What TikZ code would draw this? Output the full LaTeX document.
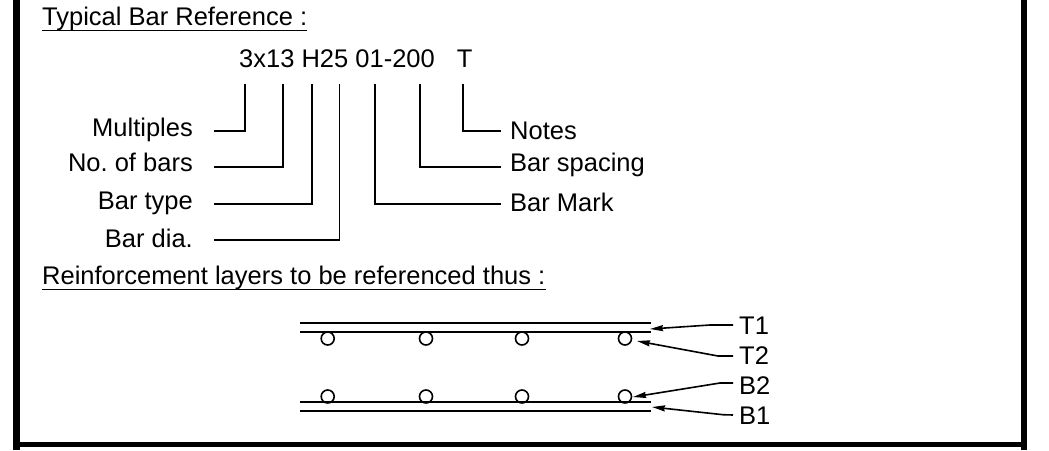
\documentclass[tikz,border=0pt]{standalone}
\usepackage{fontspec}
\setmainfont{Liberation Sans}
\usetikzlibrary{arrows.meta,positioning}
\tikzset{every node/.style={font=\fontsize{25.5}{30}\selectfont}}

\begin{document}
\frenchspacing
\begin{tikzpicture}[
    x=1pt, y=-1pt,
    >={Stealth[length=13pt,width=6pt,inset=1pt]},
    frame/.style={line width=6.5pt},
    lead/.style={line width=1.6pt},
    bar/.style={line width=1.7pt},
    heading/.style={anchor=base west, inner sep=0pt},
    leftlabel/.style={anchor=mid east, inner xsep=21pt, inner ysep=0pt},
    rightlabel/.style={anchor=mid west, inner xsep=9pt, inner ysep=0pt},
    layerlabel/.style={anchor=mid west, inner xsep=6pt, inner ysep=0pt},
    rod/.style={circle, draw, line width=1.6pt, minimum size=13pt, inner sep=0pt}
]
\useasboundingbox (0,0) rectangle (1049,450);

\draw[frame] (16.5,0) -- (16.5,450);
\draw[frame] (1024,0) -- (1024,450);
\draw[frame, line width=5pt] (20,444) -- (1021,444);

\node (title) [heading] at (42,25) {Typical Bar Reference :};
\draw[lead] (title.south west) -- (title.south east);

\node (reference) [heading] at (239,67) {3x13 H25 01-200\hspace{15pt} T};

\coordinate (multiplestop) at (245,83.5);
\coordinate (numbertop) at (283,83.5);
\coordinate (typetop) at (312,83.5);
\coordinate (diatop) at (339.5,83.5);
\coordinate (marktop) at (375,83.5);
\coordinate (spacingtop) at (420,83.5);
\coordinate (notestop) at (463,83.5);

\node (multiples) [leftlabel] at (214,134) {Multiples};
\node (number) [leftlabel] at (214,169) {No. of bars};
\node (type) [leftlabel] at (214,207) {Bar type};
\node (dia) [leftlabel] at (214,245) {Bar dia.};

\node (notes) [rightlabel] at (501,137) {Notes};
\node (spacing) [rightlabel] at (501,169) {Bar spacing};
\node (mark) [rightlabel] at (501,209) {Bar Mark};

\draw[lead] (multiplestop) |- ([yshift=3pt]multiples.mid east);
\draw[lead] (numbertop) |- ([yshift=2pt]number.mid east);
\draw[lead] (typetop) |- ([yshift=3pt]type.mid east);
\draw[lead] (diatop) |- ([yshift=5pt]dia.mid east);
\draw[lead] (marktop) |- ([yshift=5pt]mark.mid west);
\draw[lead] (spacingtop) |- ([yshift=2pt]spacing.mid west);
\draw[lead] (notestop) |- ([yshift=6pt]notes.mid west);

\node (layers) [heading] at (42,284) {Reinforcement layers to be referenced thus :};
\draw[lead] (layers.south west) -- (layers.south east);

% top layers
\draw[bar] (300,323) -- (651,323);
\draw[bar] (300,332) -- (651,332);
\node (top1) [rod] at (327.7,338.5) {};
\node (top2) [rod] at (426,338.5) {};
\node (top3) [rod] at (522,338.5) {};
\node (top4) [rod] at (625,338.5) {};

% bottom layers
\draw[bar] (300,402.3) -- (651,402.3);
\draw[bar] (300,411) -- (651,411);
\node (bottom1) [rod] at (327.7,396.5) {};
\node (bottom2) [rod] at (426,396.5) {};
\node (bottom3) [rod] at (522,396.5) {};
\node (bottom4) [rod] at (625,396.5) {};

\node (t1) [layerlabel] at (733,332) {T1};
\node (t2) [layerlabel] at (733,362) {T2};
\node (b2) [layerlabel] at (733,392) {B2};
\node (b1) [layerlabel] at (733,422) {B1};

\coordinate (t1tip) at (650,329);
\coordinate (b1tip) at (652,407);

\draw[lead, <-] (t1tip) -- (710,325) -- ([yshift=7pt]t1.mid west);
\draw[lead, <-] (top4) ++(12,2.5) -- (718,356) -- ([yshift=6pt]t2.mid west);
\draw[lead, <-] (bottom4) ++(8,0.5) -- (720,383) -- ([yshift=9pt]b2.mid west);
\draw[lead, <-] (b1tip) -- (723,414.7) -- ([yshift=7pt]b1.mid west);

\end{tikzpicture}
\end{document}
